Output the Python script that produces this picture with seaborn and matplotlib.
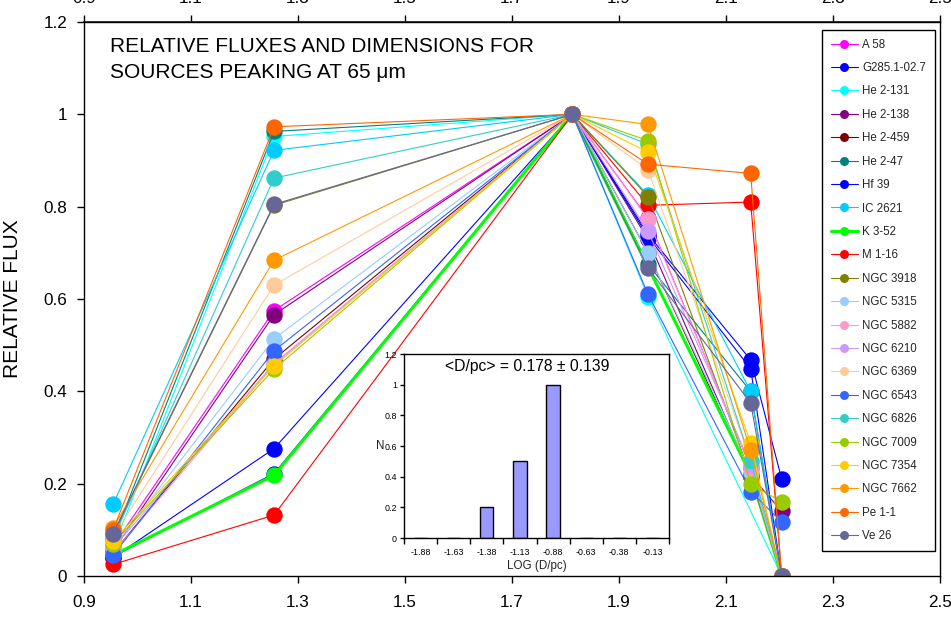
import numpy as np
import pandas as pd
import matplotlib
matplotlib.use("Agg")
import matplotlib.pyplot as plt
import seaborn as sns

# ---------------- data ----------------
wavelengths_um = [9, 18, 65, 90, 140, 160]          # x = log10(wavelength)
nan = np.nan

sources = ["A 58", "G285.1-02.7", "He 2-131", "He 2-138", "He 2-459", "He 2-47",
           "Hf 39", "IC 2621", "K 3-52", "M 1-16", "NGC 3918", "NGC 5315",
           "NGC 5882", "NGC 6210", "NGC 6369", "NGC 6543", "NGC 6826", "NGC 7009",
           "NGC 7354", "NGC 7662", "Pe 1-1", "Ve 26"]

colors = ["#FF00FF", "#0000FF", "#00FFFF", "#800080", "#800000", "#008080",
          "#0000FF", "#00CCFF", "#00FF00", "#FF0000", "#808000", "#99CCFF",
          "#FF99CC", "#CC99FF", "#FFCC99", "#3366FF", "#33CCCC", "#99CC00",
          "#FFCC00", "#FF9900", "#FF6600", "#666699"]

flux_A58      = [0.065, 0.575, 1.0, 0.775, 0.235, 0.0]
flux_G285     = [0.042, 0.222, 1.0, 0.740, 0.468, 0.21]
flux_He2_131  = [0.060, 0.952, 1.0, 0.605, nan,   0.0]
flux_He2_138  = [0.055, 0.566, 1.0, 0.729, 0.218, 0.14]
flux_He2_459  = [0.050, 0.470, 1.0, 0.700, 0.215, 0.0]
flux_He2_47   = [0.080, 0.963, 1.0, 0.675, 0.400, 0.0]
flux_Hf39     = [0.040, 0.276, 1.0, 0.735, 0.449, 0.0]
flux_IC2621   = [0.155, 0.922, 1.0, 0.825, 0.400, 0.0]
flux_K3_52    = [0.045, 0.218, 1.0, nan,   0.220, 0.0]
flux_M1_16    = [0.025, 0.132, 1.0, 0.803, 0.810, 0.0]
flux_NGC3918  = [0.090, 0.803, 1.0, 0.822, 0.218, 0.0]
flux_NGC5315  = [0.060, 0.514, 1.0, 0.700, 0.225, 0.0]
flux_NGC5882  = [0.050, 0.458, 1.0, 0.773, 0.235, 0.0]
flux_NGC6210  = [0.060, 0.460, 1.0, 0.747, 0.240, 0.0]
flux_NGC6369  = [0.085, 0.630, 1.0, 0.880, 0.250, 0.0]
flux_NGC6543  = [0.045, 0.488, 1.0, 0.610, 0.183, 0.117]
flux_NGC6826  = [0.080, 0.862, 1.0, 0.935, 0.250, 0.0]
flux_NGC7009  = [0.070, 0.448, 1.0, 0.943, 0.200, 0.16]
flux_NGC7354  = [0.075, 0.455, 1.0, 0.918, 0.288, 0.0]
flux_NGC7662  = [0.105, 0.684, 1.0, 0.978, 0.272, 0.0]
flux_Pe1_1    = [0.100, 0.973, 1.0, 0.892, 0.872, 0.0]
flux_Ve26     = [0.092, 0.805, 1.0, 0.667, 0.375, 0.0]

all_flux = [flux_A58, flux_G285, flux_He2_131, flux_He2_138, flux_He2_459, flux_He2_47,
            flux_Hf39, flux_IC2621, flux_K3_52, flux_M1_16, flux_NGC3918, flux_NGC5315,
            flux_NGC5882, flux_NGC6210, flux_NGC6369, flux_NGC6543, flux_NGC6826,
            flux_NGC7009, flux_NGC7354, flux_NGC7662, flux_Pe1_1, flux_Ve26]

x_ticks = [0.9, 1.1, 1.3, 1.5, 1.7, 1.9, 2.1, 2.3, 2.5]
x_tick_labels = ["0.9", "1.1", "1.3", "1.5", "1.7", "1.9", "2.1", "2.3", "2.5"]
y_ticks = [0, 0.2, 0.4, 0.6, 0.8, 1.0, 1.2]
y_tick_labels = ["0", "0.2", "0.4", "0.6", "0.8", "1", "1.2"]

hist_bins = ["-1.88", "-1.63", "-1.38", "-1.13", "-0.88", "-0.63", "-0.38", "-0.13"]
hist_counts = [0, 0, 0.2, 0.5, 1.0, 0, 0, 0]
hist_y_ticks = [0, 0.2, 0.4, 0.6, 0.8, 1.0, 1.2]
hist_y_labels = ["0", "0.2", "0.4", "0.6", "0.8", "1", "1.2"]

# ---------------- style ----------------
sns.set_theme(style="white")
plt.rcParams["font.family"] = ["Liberation Sans", "DejaVu Sans"]

W, H = 951, 618
fig = plt.figure(figsize=(W / 100, H / 100), dpi=100)
fig.patch.set_facecolor("white")

L, R, T, B = 84, 940, 22, 576
ax = fig.add_axes([L / W, 1 - B / H, (R - L) / W, (B - T) / H])
ax.set_facecolor("white")

log_wl = np.log10(wavelengths_um)
for name, col, vals in zip(sources, colors, all_flux):
    v = np.array(vals, dtype=float)
    m = ~np.isnan(v)
    df = pd.DataFrame({"x": log_wl[m], "flux": v[m]})
    lw = 2.2 if name == "K 3-52" else 0.8
    sns.lineplot(data=df, x="x", y="flux", ax=ax, color=col, marker="o",
                 markersize=11.8, markeredgewidth=0, linewidth=lw,
                 label=name, sort=False, estimator=None)

ax.set_xlim(0.9, 2.5)
ax.set_ylim(0, 1.2)
ax.set_xticks(x_ticks)
ax.set_xticklabels(x_tick_labels)
ax.set_yticks(y_ticks)
ax.set_yticklabels(y_tick_labels)
ax.tick_params(axis="both", direction="out", length=5, width=1, colors="black",
               labelsize=12.3, bottom=True, left=True)
ax.tick_params(axis="x", pad=9)
ax.tick_params(axis="y", pad=7)
ax.set_xlabel("")
ax.set_ylabel("RELATIVE FLUX", fontsize=15, color="black")
ax.yaxis.set_label_coords((22 - L) / (R - L), 0.5)
for s in ax.spines.values():
    s.set_visible(True)
    s.set_color("black")
    s.set_linewidth(1)

sec = ax.secondary_xaxis("top")
sec.set_xticks(x_ticks)
sec.set_xticklabels(x_tick_labels)
sec.tick_params(direction="out", length=5, width=1, labelsize=12.3, pad=6.5, colors="black")

ax.text((110 - L) / (R - L), (B - 37) / (B - T),
        "RELATIVE FLUXES AND DIMENSIONS FOR\nSOURCES PEAKING AT 65 \u03bcm",
        transform=ax.transAxes, ha="left", va="top", fontsize=15,
        linespacing=1.45, color="black")

# legend
handles, labels = ax.get_legend_handles_labels()
leg = ax.legend(handles, labels, loc="upper left",
                bbox_to_anchor=(822 / W, 1 - 30 / H), bbox_transform=fig.transFigure,
                borderaxespad=0, frameon=True, fancybox=False, framealpha=1,
                edgecolor="black", fontsize=8.3, markerscale=0.55,
                handlelength=2.4, handletextpad=0.35, labelspacing=0.99,
                borderpad=0.75)
leg.get_frame().set_linewidth(1)

# inset histogram
iL, iR, iT, iB = 404, 669, 354, 538
ins = fig.add_axes([iL / W, 1 - iB / H, (iR - iL) / W, (iB - iT) / H])
ins.set_facecolor("white")
ins.set_zorder(5)
hdf = pd.DataFrame({"bin": hist_bins, "N": hist_counts})
sns.barplot(data=hdf, x="bin", y="N", ax=ins, color="#9999FF", saturation=1,
            edgecolor="black", linewidth=1, width=0.4, order=hist_bins)
ins.set_xlim(-0.5, len(hist_bins) - 0.5)
ins.set_ylim(0, 1.2)
ins.set_yticks(hist_y_ticks)
ins.set_yticklabels(hist_y_labels)
ins.set_xticks(range(len(hist_bins)))
ins.set_xticklabels(hist_bins)
ins.set_xticks(np.arange(-0.5, len(hist_bins)), minor=True)
ins.tick_params(axis="x", which="major", length=0, labelsize=6.4, pad=7, colors="black")
ins.tick_params(axis="x", which="minor", direction="out", length=4, width=1, colors="black", bottom=True)
ins.tick_params(axis="y", direction="out", length=3, width=1, labelsize=6.4, pad=2,
                colors="black", left=True)
ins.set_xlabel("LOG (D/pc)", fontsize=8.4, labelpad=2)
ins.set_ylabel("N", fontsize=8.4, rotation=0, labelpad=3, va="center")
for s in ins.spines.values():
    s.set_visible(True)
    s.set_color("black")
    s.set_linewidth(1)
ins.text(0.464, 0.93, "<D/pc> = 0.178 \u00b1 0.139", transform=ins.transAxes,
         ha="center", va="center", fontsize=11.3, color="black")

fig.savefig("out.png", dpi=100)
